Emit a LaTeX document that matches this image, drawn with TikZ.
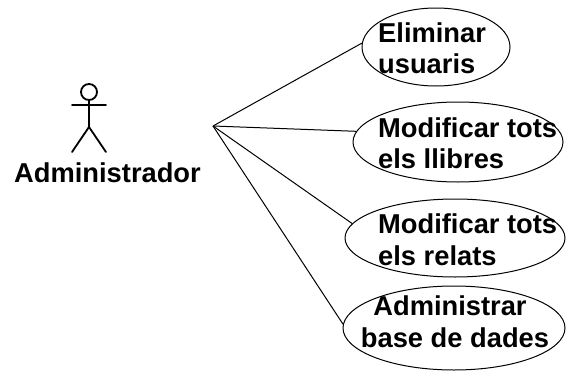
\documentclass[tikz,border=0pt]{standalone}
\usepackage{fontspec}
\setmainfont{Liberation Sans}
\usetikzlibrary{shapes.geometric}
\begin{document}
\begin{tikzpicture}[x=1pt,y=-1pt,
  usecase/.style={draw, ellipse, inner sep=0pt, line width=1pt},
  lbl/.style={anchor=base west, inner sep=0pt, font=\bfseries\fontsize{27.3}{32}\selectfont},
  clbl/.style={anchor=base, inner sep=0pt, font=\bfseries\fontsize{27.3}{32}\selectfont},
  conn/.style={line width=1pt},
  actorline/.style={line width=1.8pt, line cap=round}]
\useasboundingbox (0,0) rectangle (567,372);
\fill[white] (0,0) rectangle (567,372);
% actor
\node[draw, circle, actorline, minimum size=16pt, inner sep=0pt] (head) at (89,92) {};
\coordinate (hip) at (89,127);
\coordinate (armL) at (72,105);
\coordinate (armR) at (106,105);
\coordinate (legL) at (72,152);
\coordinate (legR) at (106,152);
\draw[actorline] (head.south) -- (hip);
\draw[actorline] (armL) -- (armR);
\draw[actorline] (legL) -- (hip) -- (legR);
\node[clbl] (actor) at (107.5,182) {Administrador};
% use cases
\node[usecase, minimum width=148pt, minimum height=78pt] (e1) at (436,47) {};
\node[usecase, minimum width=210pt, minimum height=80pt] (e2) at (458,142) {};
\node[usecase, minimum width=220pt, minimum height=78pt] (e3) at (455,238) {};
\node[usecase, minimum width=222pt, minimum height=84pt] (e4) at (454,328) {};
% connectors
\coordinate (J) at (213,126);
\draw[conn] (J) -- (e1.177);
\draw[conn] (J) -- (e2.174);
\draw[conn] (J) -- (e3.172);
\draw[conn] (J) -- (e4.178);
% labels
\node[lbl] (t1a) at (378,42) {Eliminar};
\node[lbl] (t1b) at (378,73) {usuaris};
\node[lbl] (t2a) at (378,137) {Modificar tots};
\node[lbl] (t2b) at (378,168) {els llibres};
\node[lbl] (t3a) at (378,233) {Modificar tots};
\node[lbl] (t3b) at (378,265) {els relats};
\node[clbl] (t4a) at (450,315) {Administrar};
\node[clbl] (t4b) at (455,347) {base de dades};
\end{tikzpicture}
\end{document}
